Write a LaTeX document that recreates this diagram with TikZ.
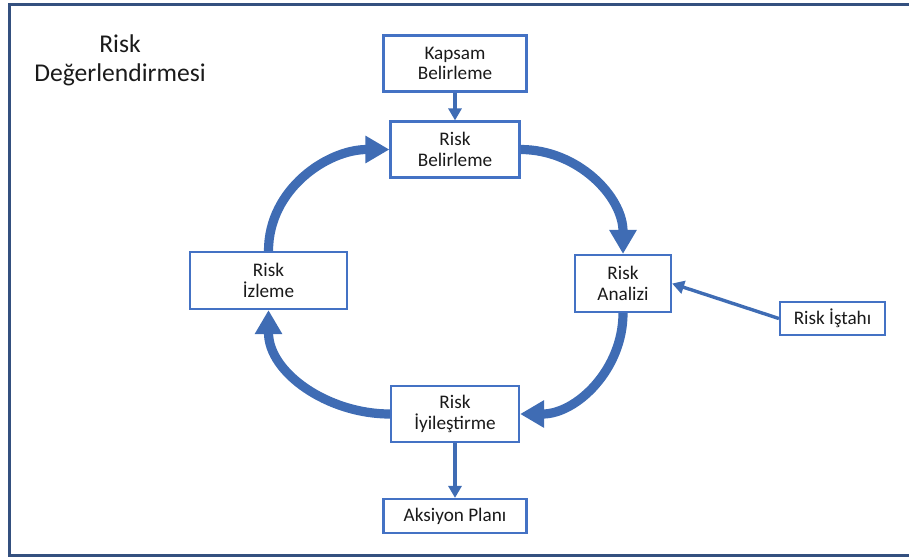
\documentclass[tikz,border=0pt]{standalone}
\usepackage{fontspec}
\setmainfont{Carlito}
\usetikzlibrary{arrows.meta}
\definecolor{boxblue}{HTML}{4472C4}
\definecolor{arcblue}{HTML}{3F6CB4}
\definecolor{framenavy}{HTML}{34507F}
\definecolor{inktext}{HTML}{1A1A1A}

\begin{document}
\begin{tikzpicture}[x=0.5pt,y=-0.5pt,font=\fontsize{9.6}{10.2}\selectfont,
  procbox/.style={draw=boxblue,line width=1.1pt,fill=white,align=center,inner sep=0pt,text=inktext},
  cyclearrow/.style={draw=arcblue,line width=4.6pt,-{Triangle[width=13pt,length=12pt]}},
  feedarrow/.style={draw=arcblue,line width=1.7pt,-{Triangle[width=6.5pt,length=6pt]}}]
\useasboundingbox (0,0) rectangle (909,558);
\draw[framenavy,line width=1.5pt] (9,4) rectangle (930,555);

\node[align=center,text=inktext,font=\fontsize{12.8}{14.5}\selectfont] (title) at (120,60) {Risk\\Değerlendirmesi};

% boxes
\node[procbox,minimum width=71.5pt,minimum height=28pt] (kapsam) at (455,63.5) {Kapsam\\Belirleme};
\node[procbox,minimum width=64.5pt,minimum height=28pt] (riskbel) at (455,149.5) {Risk\\Belirleme};
\node[procbox,minimum width=48pt,minimum height=28.5pt] (riskana) at (623,283.5) {Risk\\Analizi};
\node[procbox,minimum width=52.5pt,minimum height=16.5pt] (istah) at (832.5,318.5) {Risk İştahı};
\node[procbox,minimum width=78.5pt,minimum height=28.5pt] (izleme) at (268.5,280.5) {Risk\\İzleme};
\node[procbox,minimum width=64pt,minimum height=28pt] (iyiles) at (455,414) {Risk\\İyileştirme};
\node[procbox,minimum width=71.5pt,minimum height=17pt] (aksiyon) at (455,516) {Aksiyon Planı};

% cycle
\draw[cyclearrow] (riskbel.east) to[out=0,in=90] (riskana.north);
\draw[cyclearrow] (riskana.south) to[out=-90,in=0] (iyiles.east);
\draw[cyclearrow] (iyiles.west) to[out=180,in=-90] (izleme.south);
\draw[cyclearrow] (izleme.north) to[out=90,in=180] (riskbel.west);

% feeds
\draw[feedarrow] (kapsam) -- (riskbel);
\draw[feedarrow] (iyiles) -- (aksiyon);
\draw[feedarrow] (istah.west) -- (riskana.east);
\end{tikzpicture}
\end{document}
